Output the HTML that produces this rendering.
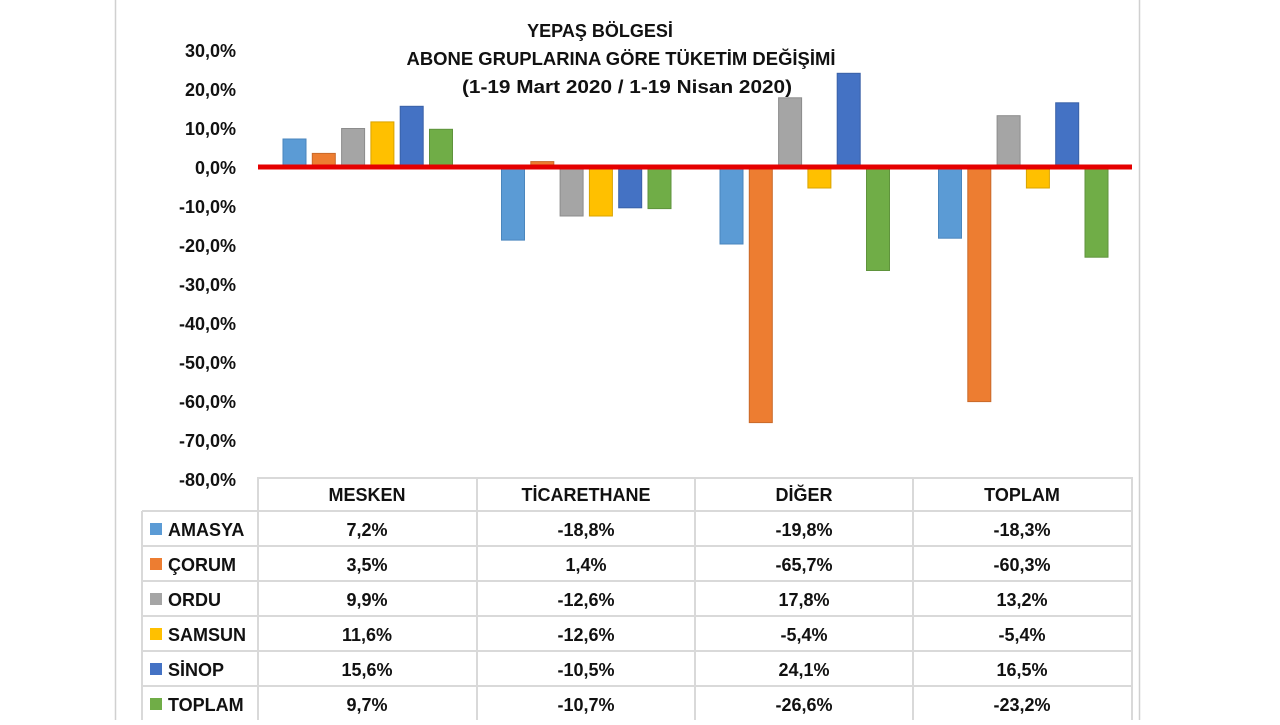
<!DOCTYPE html>
<html><head><meta charset="utf-8"><style>
body{margin:0;background:#fff;width:1280px;height:720px;overflow:hidden;font-family:"Liberation Sans",sans-serif}
</style></head><body>
<svg width="1280" height="720" xmlns="http://www.w3.org/2000/svg" font-family="Liberation Sans, sans-serif" font-weight="bold">
<rect x="0" y="0" width="1280" height="720" fill="#fff"/>
<line x1="115.5" y1="0" x2="115.5" y2="720" stroke="#d0d0d0" stroke-width="1.5"/>
<line x1="1139.5" y1="0" x2="1139.5" y2="720" stroke="#d0d0d0" stroke-width="1.5"/>
<g font-size="18" text-anchor="middle" fill="#111">
<text x="600" y="37">YEPAŞ BÖLGESİ</text>
<text x="621" y="65" textLength="429" lengthAdjust="spacingAndGlyphs">ABONE GRUPLARINA GÖRE TÜKETİM DEĞİŞİMİ</text>
<text x="627" y="93" textLength="330" lengthAdjust="spacingAndGlyphs">(1-19 Mart 2020 / 1-19 Nisan 2020)</text>
</g>
<g font-size="18" text-anchor="end" fill="#111">
<text x="236" y="57">30,0%</text>
<text x="236" y="96">20,0%</text>
<text x="236" y="135">10,0%</text>
<text x="236" y="174">0,0%</text>
<text x="236" y="213">-10,0%</text>
<text x="236" y="252">-20,0%</text>
<text x="236" y="291">-30,0%</text>
<text x="236" y="330">-40,0%</text>
<text x="236" y="369">-50,0%</text>
<text x="236" y="408">-60,0%</text>
<text x="236" y="447">-70,0%</text>
<text x="236" y="486">-80,0%</text>
</g>
<g stroke-width="1">
<rect x="283" y="139" width="23" height="28" fill="#5b9bd5" stroke="#4a86bd"/>
<rect x="312.3" y="153.4" width="23" height="13.6" fill="#ed7d31" stroke="#c9692a"/>
<rect x="341.6" y="128.5" width="23" height="38.5" fill="#a5a5a5" stroke="#8c8c8c"/>
<rect x="370.9" y="121.9" width="23" height="45.1" fill="#ffc000" stroke="#d9a300"/>
<rect x="400.2" y="106.3" width="23" height="60.7" fill="#4472c4" stroke="#3a61a7"/>
<rect x="429.5" y="129.3" width="23" height="37.7" fill="#70ad47" stroke="#5f933c"/>

<rect x="501.5" y="167" width="23" height="73.1" fill="#5b9bd5" stroke="#4a86bd"/>
<rect x="530.8" y="161.6" width="23" height="5.4" fill="#ed7d31" stroke="#c9692a"/>
<rect x="560.1" y="167" width="23" height="49" fill="#a5a5a5" stroke="#8c8c8c"/>
<rect x="589.4" y="167" width="23" height="49" fill="#ffc000" stroke="#d9a300"/>
<rect x="618.7" y="167" width="23" height="40.8" fill="#4472c4" stroke="#3a61a7"/>
<rect x="648" y="167" width="23" height="41.6" fill="#70ad47" stroke="#5f933c"/>

<rect x="720" y="167" width="23" height="77" fill="#5b9bd5" stroke="#4a86bd"/>
<rect x="749.3" y="167" width="23" height="255.6" fill="#ed7d31" stroke="#c9692a"/>
<rect x="778.6" y="97.8" width="23" height="69.2" fill="#a5a5a5" stroke="#8c8c8c"/>
<rect x="807.9" y="167" width="23" height="21" fill="#ffc000" stroke="#d9a300"/>
<rect x="837.2" y="73.3" width="23" height="93.7" fill="#4472c4" stroke="#3a61a7"/>
<rect x="866.5" y="167" width="23" height="103.5" fill="#70ad47" stroke="#5f933c"/>

<rect x="938.5" y="167" width="23" height="71.2" fill="#5b9bd5" stroke="#4a86bd"/>
<rect x="967.8" y="167" width="23" height="234.6" fill="#ed7d31" stroke="#c9692a"/>
<rect x="997.1" y="115.7" width="23" height="51.3" fill="#a5a5a5" stroke="#8c8c8c"/>
<rect x="1026.4" y="167" width="23" height="21" fill="#ffc000" stroke="#d9a300"/>
<rect x="1055.7" y="102.8" width="23" height="64.2" fill="#4472c4" stroke="#3a61a7"/>
<rect x="1085" y="167" width="23" height="90.2" fill="#70ad47" stroke="#5f933c"/>
</g>
<rect x="258" y="164.5" width="874" height="5" fill="#e50000"/>
<g stroke="#d9d9d9" stroke-width="2" fill="none">
<polyline points="258,720 258,478 1132,478 1132,720"/>
<line x1="142" y1="511" x2="1132" y2="511"/>
<line x1="142" y1="546" x2="1132" y2="546"/>
<line x1="142" y1="581" x2="1132" y2="581"/>
<line x1="142" y1="616" x2="1132" y2="616"/>
<line x1="142" y1="651" x2="1132" y2="651"/>
<line x1="142" y1="686" x2="1132" y2="686"/>
<line x1="142" y1="511" x2="142" y2="720"/>
<line x1="477" y1="478" x2="477" y2="720"/>
<line x1="695" y1="478" x2="695" y2="720"/>
<line x1="913" y1="478" x2="913" y2="720"/>
</g>
<g font-size="18" text-anchor="middle" fill="#111">
<text x="367" y="501">MESKEN</text><text x="586" y="501">TİCARETHANE</text><text x="804" y="501">DİĞER</text><text x="1022" y="501">TOPLAM</text>
<text x="367" y="536">7,2%</text><text x="586" y="536">-18,8%</text><text x="804" y="536">-19,8%</text><text x="1022" y="536">-18,3%</text>
<text x="367" y="571">3,5%</text><text x="586" y="571">1,4%</text><text x="804" y="571">-65,7%</text><text x="1022" y="571">-60,3%</text>
<text x="367" y="606">9,9%</text><text x="586" y="606">-12,6%</text><text x="804" y="606">17,8%</text><text x="1022" y="606">13,2%</text>
<text x="367" y="641">11,6%</text><text x="586" y="641">-12,6%</text><text x="804" y="641">-5,4%</text><text x="1022" y="641">-5,4%</text>
<text x="367" y="676">15,6%</text><text x="586" y="676">-10,5%</text><text x="804" y="676">24,1%</text><text x="1022" y="676">16,5%</text>
<text x="367" y="711">9,7%</text><text x="586" y="711">-10,7%</text><text x="804" y="711">-26,6%</text><text x="1022" y="711">-23,2%</text>
</g>
<g font-size="18" fill="#111">
<rect x="150" y="523" width="12" height="12" fill="#5b9bd5"/><text x="168" y="536">AMASYA</text>
<rect x="150" y="558" width="12" height="12" fill="#ed7d31"/><text x="168" y="571">ÇORUM</text>
<rect x="150" y="593" width="12" height="12" fill="#a5a5a5"/><text x="168" y="606">ORDU</text>
<rect x="150" y="628" width="12" height="12" fill="#ffc000"/><text x="168" y="641">SAMSUN</text>
<rect x="150" y="663" width="12" height="12" fill="#4472c4"/><text x="168" y="676">SİNOP</text>
<rect x="150" y="698" width="12" height="12" fill="#70ad47"/><text x="168" y="711">TOPLAM</text>
</g>
</svg>
</body></html>
